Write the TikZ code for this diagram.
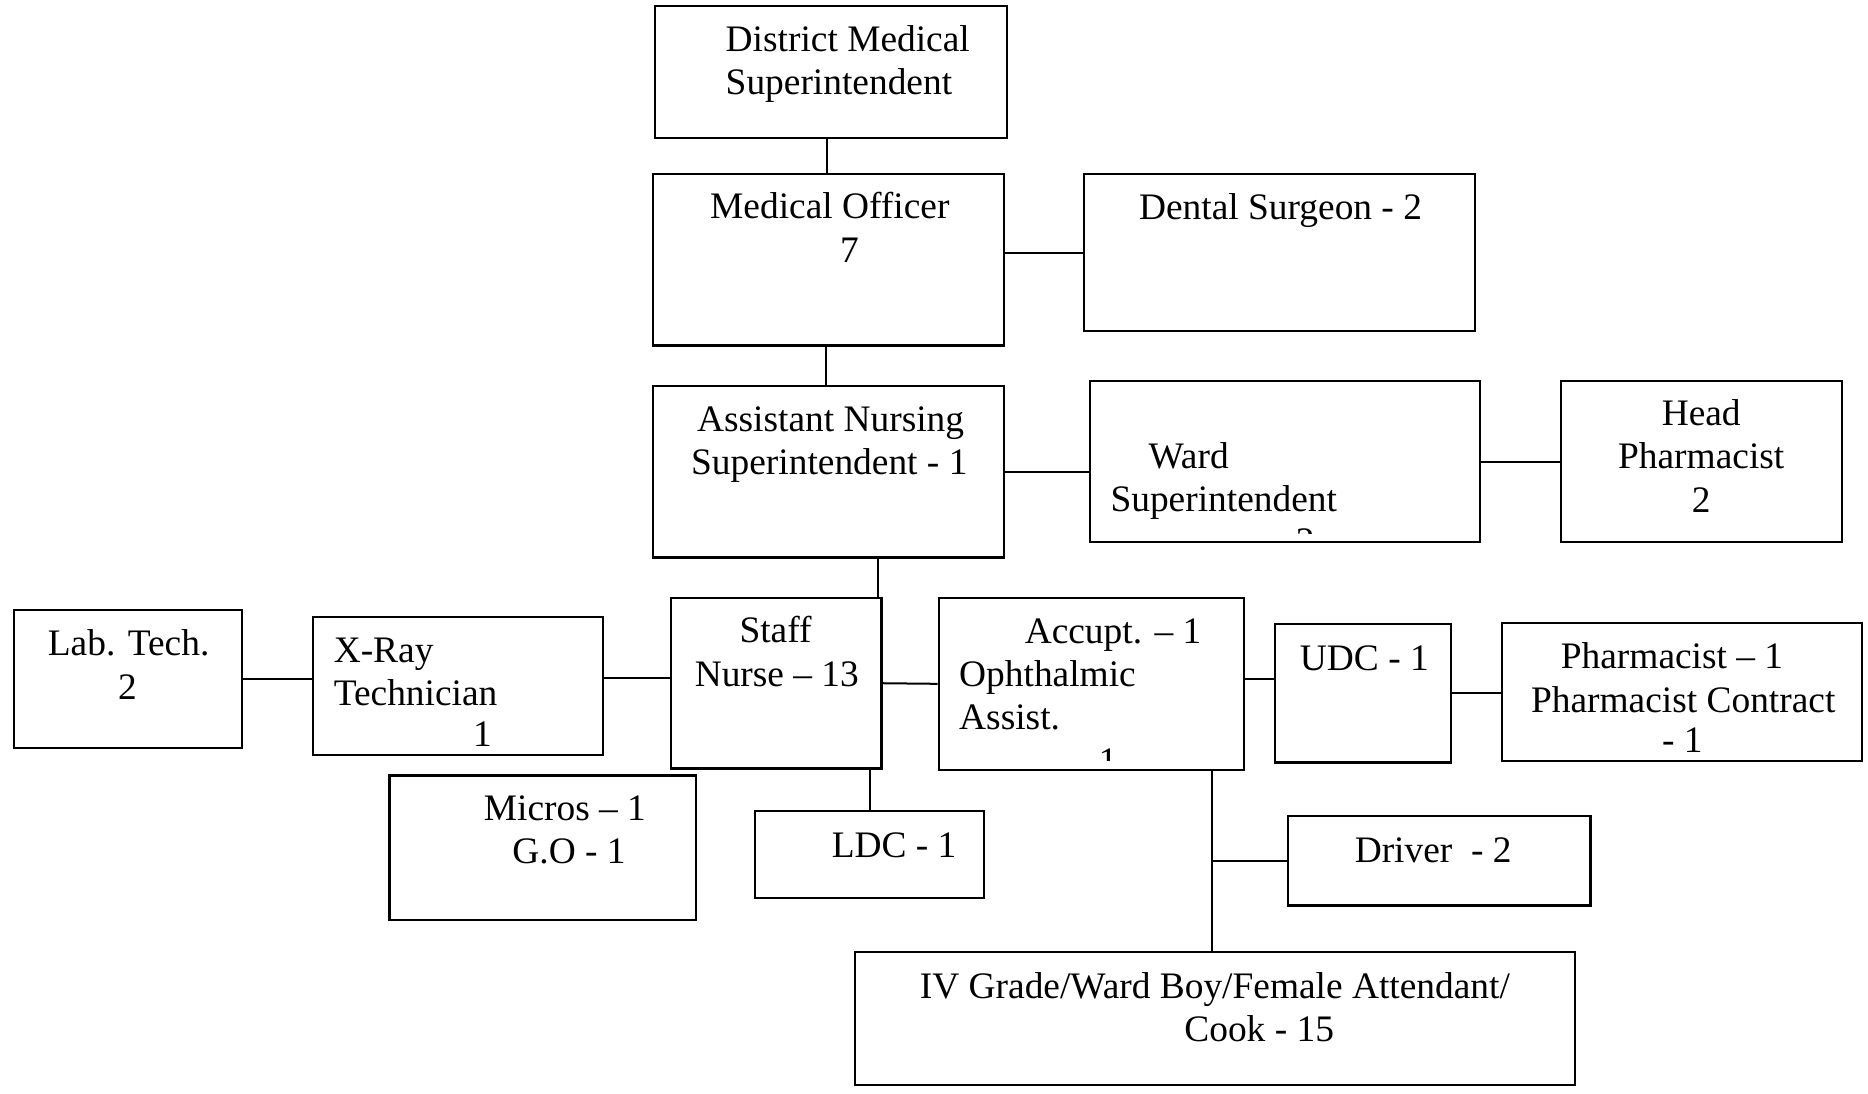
\documentclass[tikz,border=0pt]{standalone}
\usepackage{fontspec}
\setmainfont{Liberation Serif}
\usetikzlibrary{fit,calc}
\begin{document}
\begin{tikzpicture}[x=1.1913pt,y=-1.1913pt,
  box/.style={draw,line width=2.2pt,inner sep=0pt},
  txt/.style={anchor=base west,inner sep=0pt,font=\fontsize{37.4pt}{43pt}\selectfont},
  ctxt/.style={txt,anchor=base},
  link/.style={line width=2pt}]
\useasboundingbox[fill=white] (0,0) rectangle (1568,918);

% boxes
\node[box,fit={(550,5) (845,116)}] (dms) {};
\node[box,fit={(548,146) (843,290)}] (mo) {};
\node[box,fit={(910,146) (1238,278)}] (dental) {};
\node[box,fit={(548,324) (843,468)}] (ans) {};
\node[box,fit={(915,320) (1242,455)}] (ward) {};
\node[box,fit={(1310,320) (1546,455)}] (head) {};
\node[box,fit={(12,512) (203,628)}] (lab) {};
\node[box,fit={(263,518) (506,634)}] (xray) {};
\node[box,fit={(563,502) (740,645)}] (staff) {};
\node[box,fit={(788,502) (1044,646)}] (accupt) {};
\node[box,fit={(1070,524) (1218,640)}] (udc) {};
\node[box,fit={(1261,523) (1563,639)}] (pharm) {};
\node[box,fit={(327,651) (584,772)}] (micros) {};
\node[box,fit={(634,681) (826,754)}] (ldc) {};
\node[box,fit={(1081,685) (1335,760)}] (driver) {};
\node[box,fit={(718,799) (1322,911)}] (iv) {};

% texts
\node[txt] (t-dms1) at (609,43) {District Medical};
\node[txt] (t-dms2) at (609,79) {Superintendent};
\node[txt] (t-mo1) at (596,183) {Medical Officer};
\node[ctxt] (t-mo2) at (713,220) {7};
\node[txt] (t-dental) at (956,184) {Dental Surgeon - 2};
\node[txt] (t-ans1) at (585,362) {Assistant Nursing};
\node[txt] (t-ans2) at (580,398) {Superintendent - 1};
\node[txt] (t-ward1) at (964,393) {Ward};
\node[txt] (t-ward2) at (932,429) {Superintendent};
\begin{scope}
  \clip (920,325) rectangle (1237,447.5);
  \node[ctxt] (t-ward3) at (1095.5,465) {2};
\end{scope}
\node[ctxt] (t-head1) at (1428,357) {Head};
\node[ctxt] (t-head2) at (1428,393) {Pharmacist};
\node[ctxt] (t-head3) at (1428,430) {2};
\node[txt] (t-lab1) at (40,550) {Lab. Tech.};
\node[ctxt] (t-lab2) at (107,587) {2};
\node[txt] (t-xr1) at (280,556) {X-Ray};
\node[txt] (t-xr2) at (280,592) {Technician};
\node[ctxt] (t-xr3) at (405,627) {1};
\node[ctxt] (t-sn1) at (651,539) {Staff};
\node[txt] (t-sn2) at (583,576) {Nurse – 13};
\node[txt] (t-ac1) at (860,540) {Accupt. – 1};
\node[txt] (t-ac2) at (805,576) {Ophthalmic};
\node[txt] (t-ac3) at (805,612) {Assist.};
\begin{scope}
  \clip (793,505) rectangle (1040,638);
  \node[ctxt] (t-ac4) at (930,649) {1};
\end{scope}
\node[txt] (t-udc) at (1091,563) {UDC - 1};
\node[txt] (t-ph1) at (1310,561) {Pharmacist – 1};
\node[txt] (t-ph2) at (1285,598) {Pharmacist Contract};
\node[txt] (t-ph3) at (1395,632) {- 1};
\node[txt] (t-mi1) at (406,689) {Micros – 1};
\node[txt] (t-mi2) at (430,725) {G.O - 1};
\node[txt] (t-ldc) at (698,720) {LDC - 1};
\node[txt] (t-drv) at (1137,724) {Driver\ \ - 2};
\node[txt] (t-iv1) at (772,838) {IV Grade/Ward Boy/Female Attendant/};
\node[txt] (t-iv2) at (994,874) {Cook - 15};

% connectors
\path (dms.south) ++(-3.5,0) coordinate (dms-bot);
\draw[link] (dms-bot) -- (dms-bot |- mo.north);
\path (mo.south) ++(-2.5,0) coordinate (mo-bot);
\draw[link] (mo-bot) -- (mo-bot |- ans.north);
\draw[link] (mo.east |- dental.west) -- (dental.west);
\draw[link] (ans.east) -- (ans.east -| ward.west);
\draw[link] (ward.east) -- (ward.east -| head.west);
\path (staff.north east) ++(-4,0) coordinate (sn-top);
\draw[link] (sn-top) -- (sn-top |- ans.south);
\draw[link] (lab.east) -- (lab.east -| xray.west);
\path (staff.west) ++(0,-4.5) coordinate (sn-left);
\draw[link] (sn-left) -- (sn-left -| xray.east);
\draw[link] (staff.east) -- (accupt.west);
\draw[link] (ldc.north) -- (ldc.north |- staff.south);
\path (accupt.east) ++(0,-4) coordinate (ac-right);
\draw[link] (ac-right) -- (ac-right -| udc.west);
\draw[link] (udc.east) -- (udc.east -| pharm.west);
\path (iv.north) ++(-3,0) coordinate (iv-top);
\draw[link] (iv-top) -- (iv-top |- accupt.south);
\draw[link] (driver.west) -- (driver.west -| iv-top);
\end{tikzpicture}
\end{document}
